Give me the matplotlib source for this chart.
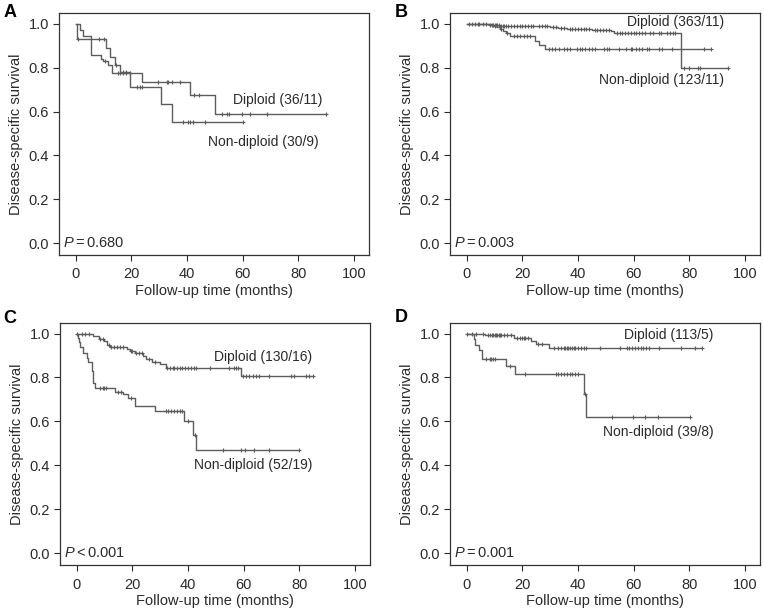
#
# Kaplan-Meier curves, diploid vs non-diploid, four cohorts (A-D)
#

import numpy as np
import matplotlib
matplotlib.use('Agg')
from matplotlib import pyplot as plt

plt.rcParams['font.family'] = ['Liberation Sans', 'DejaVu Sans']
plt.rcParams['mathtext.fontset'] = 'custom'
plt.rcParams['mathtext.it'] = 'Liberation Sans:italic'
plt.rcParams['mathtext.rm'] = 'Liberation Sans'

# ---------------------------------------------------------------- data
# event times, survival after each event, end of follow-up, censor times

# A
a_dip_t = [1.5, 2.5, 5.5, 9, 10, 11.5, 13, 24, 41, 50]
a_dip_s = [0.972, 0.944, 0.86, 0.84, 0.83, 0.81, 0.775, 0.737, 0.676, 0.59]
a_dip_end = 90
a_dip_cens = [10.5, 15.3, 16.1, 17.1, 18, 19.5, 29.7, 32.7, 33.3, 34.5, 37.5,
              42.7, 44.4, 52.5, 54.3, 55.2, 59.7, 62.7, 68.7, 90]
a_non_t = [0.5, 11, 12.5, 14, 16, 19.5, 30.5, 34.5]
a_non_s = [0.933, 0.89, 0.85, 0.81, 0.78, 0.714, 0.633, 0.553]
a_non_end = 60
a_non_cens = [0.8, 8.4, 10.1, 14.5, 17, 18, 22, 23, 23.8, 38.7, 40.5, 41.1,
              42.3, 46.5, 60]

# B
b_dip_t = [5, 8, 12, 25, 30, 33, 36, 45, 52, 53, 77]
b_dip_s = [0.997, 0.994, 0.991, 0.988, 0.985, 0.98, 0.977, 0.973, 0.966, 0.958, 0.80]
b_dip_end = 94
b_dip_cens = [1, 2, 3, 4, 4.5, 6, 7, 8.5, 9, 9.5, 10, 10.5, 11, 11.5, 12.5, 13,
              13.5, 14, 15, 16, 17, 18, 19, 20, 21, 22, 23, 24, 26, 27, 28, 29,
              31, 32, 34, 35, 37, 38, 39, 40, 41, 42, 43, 44, 46, 47, 48, 49, 50,
              51, 54, 55, 56, 57, 58, 59, 60, 61, 62, 63, 64, 66, 67, 69, 70, 72,
              73, 74, 75, 78, 80, 83, 84, 94]
b_non_t = [9, 11, 12, 13, 14, 15.7, 24.5, 26, 28.3]
b_non_s = [0.992, 0.984, 0.976, 0.968, 0.96, 0.945, 0.92, 0.905, 0.887]
b_non_end = 88
b_non_cens = [10, 12.5, 14.5, 16.9, 18.1, 19.3, 20.5, 21.7, 22.9, 29.5, 30.6,
              31.9, 33.1, 34.9, 36, 37.3, 39.7, 40.9, 41.4, 42.7, 43.9, 45, 46.3,
              49.3, 50.5, 51.1, 54.7, 57.1, 58.9, 59.5, 60.7, 61.9, 63.1, 64.9,
              65.5, 69.1, 70.3, 73.9, 85.3, 88]

# C
c_dip_t = [6, 8, 10, 11, 12, 18, 19, 21, 24, 25, 27, 30, 32, 59]
c_dip_s = [0.99, 0.975, 0.965, 0.95, 0.94, 0.93, 0.92, 0.91, 0.90, 0.885,
           0.87, 0.86, 0.845, 0.805]
c_dip_end = 85
c_dip_cens = [0, 1.8, 3, 4.4, 8.5, 9.5, 11.5, 12.5, 13.5, 14.5, 15.5, 16.5,
              19.5, 20, 21.5, 22.5, 23.5, 26, 28, 32.5, 33.5, 34.5, 35, 36, 37,
              38, 39, 40, 41, 42, 43, 48, 54.7, 56.7, 57.3, 57.9, 59.8, 61, 62.1,
              63.3, 64.5, 65.7, 69.3, 77, 78.2, 82.4, 83.6, 85]
c_non_t = [0.3, 0.8, 1.2, 2.4, 3.6, 4.2, 5.4, 6.0, 6.6, 13.7, 16.7, 18.5, 20.9,
           28, 38.6, 41.8, 43]
c_non_s = [0.98, 0.96, 0.94, 0.91, 0.89, 0.87, 0.83, 0.776, 0.753, 0.736,
           0.724, 0.705, 0.672, 0.646, 0.60, 0.54, 0.472]
c_non_end = 80
c_non_cens = [8.3, 9.5, 10, 10.6, 14.9, 16.1, 19.5, 32, 33, 34, 35, 36, 37, 38,
              40, 42.5, 52.6, 59.2, 60.4, 63.9, 69.3, 80]

# D
d_dip_t = [6.5, 17, 23, 25, 29.5]
d_dip_s = [0.991, 0.98, 0.967, 0.952, 0.934]
d_dip_end = 84.5
d_dip_cens = [0, 2, 3.5, 6, 7.5, 8.5, 9, 9.5, 10, 10.5, 11, 11.5, 12, 12.5,
              13.5, 14.5, 16, 18, 19, 20, 20.5, 21, 22, 25.5, 27, 31.5, 33, 34,
              35, 35.5, 36, 36.5, 37, 38, 38.5, 39, 40, 41, 42, 42.8, 48, 55,
              57.5, 58.5, 59.5, 60.5, 61.5, 62.5, 63.5, 64.5, 65.5, 69, 77, 82,
              84.5]
d_non_t = [2.6, 3.0, 4.4, 5.4, 14, 17.5, 42, 43]
d_non_s = [0.974, 0.949, 0.923, 0.885, 0.854, 0.816, 0.724, 0.62]
d_non_end = 80
d_non_cens = [7.1, 8.3, 8.9, 9.5, 10.1, 15.5, 20.9, 32, 33, 34, 35, 36, 37,
              38, 39, 40, 42.5, 52.2, 59.9, 64.1, 68.9, 80.2]

panel_letters = ['A', 'B', 'C', 'D']
p_texts = [r'$\mathit{P}=\mathrm{0.680}$', r'$\mathit{P}=\mathrm{0.003}$',
           r'$\mathit{P}<\mathrm{0.001}$', r'$\mathit{P}=\mathrm{0.001}$']
dip_labels = ['Diploid (36/11)', 'Diploid (363/11)', 'Diploid (130/16)', 'Diploid (113/5)']
non_labels = ['Non-diploid (30/9)', 'Non-diploid (123/11)', 'Non-diploid (52/19)',
              'Non-diploid (39/8)']
# label anchor (right edge x, centre y) in data units
dip_pos = [(88.6, 0.653), (92.6, 1.007), (84.8, 0.895), (88.7, 0.995)]
non_pos = [(87.3, 0.46), (92.6, 0.745), (84.8, 0.403), (88.7, 0.554)]

curves = [
    [(a_dip_t, a_dip_s, a_dip_end, a_dip_cens), (a_non_t, a_non_s, a_non_end, a_non_cens)],
    [(b_dip_t, b_dip_s, b_dip_end, b_dip_cens), (b_non_t, b_non_s, b_non_end, b_non_cens)],
    [(c_dip_t, c_dip_s, c_dip_end, c_dip_cens), (c_non_t, c_non_s, c_non_end, c_non_cens)],
    [(d_dip_t, d_dip_s, d_dip_end, d_dip_cens), (d_non_t, d_non_s, d_non_end, d_non_cens)],
]

LINE = '#5c5c5c'
TXT = '#2a2a2a'


def km_curve(ax, t, s, end, cens):
    x = [0] + list(t) + [end]
    y = [1.0] + list(s) + [s[-1]]
    ax.step(x, y, where='post', color=LINE, lw=1.0)
    levels = np.array([1.0] + list(s))
    idx = np.searchsorted(np.array(t), np.array(cens), side='right')
    ax.plot(cens, levels[idx], ls='none', marker='+', ms=3.5, mew=0.8, color=LINE)


# ---------------------------------------------------------------- figure
fig = plt.figure(figsize=(7.64, 6.12), dpi=100)
boxes = [(0.0772, 0.583, 0.406, 0.396), (0.589, 0.583, 0.406, 0.396),
         (0.0785, 0.076, 0.406, 0.397), (0.589, 0.076, 0.406, 0.397)]
letter_xy = [(0.004, 0.993), (0.517, 0.993), (0.004, 0.493), (0.517, 0.495)]

for i in range(4):
    ax = fig.add_axes(boxes[i])
    for c in curves[i]:
        km_curve(ax, *c)

    ax.set_xlim(-6, 105.5)
    ax.set_ylim(-0.055, 1.05)
    ax.set_xticks([0, 20, 40, 60, 80, 100])
    ax.set_yticks([0.0, 0.2, 0.4, 0.6, 0.8, 1.0])
    ax.set_yticklabels(['0.0', '0.2', '0.4', '0.6', '0.8', '1.0'])
    ax.tick_params(direction='out', length=4.3, width=0.8, colors=TXT,
                   labelsize=10.5, pad=3)
    ax.tick_params(axis='x', pad=4.5)
    for sp in ax.spines.values():
        sp.set_color('#333333')
        sp.set_linewidth(0.9)
    ax.set_xlabel('Follow-up time (months)', fontsize=10.5, color=TXT, labelpad=2)
    ax.set_ylabel('Disease-specific survival', fontsize=10.5, color=TXT, labelpad=4)

    ax.text(dip_pos[i][0], dip_pos[i][1], dip_labels[i], ha='right', va='center',
            fontsize=10, color=TXT)
    ax.text(non_pos[i][0], non_pos[i][1], non_labels[i], ha='right', va='center',
            fontsize=10, color=TXT)
    ax.text(-4.5, 0.0, p_texts[i], ha='left', va='center',
            fontsize=10.5, color=TXT)

    fig.text(letter_xy[i][0], letter_xy[i][1], panel_letters[i], ha='left', va='top',
             fontsize=13, fontweight='bold', color='black')

fig.savefig('out.png', dpi=100)
